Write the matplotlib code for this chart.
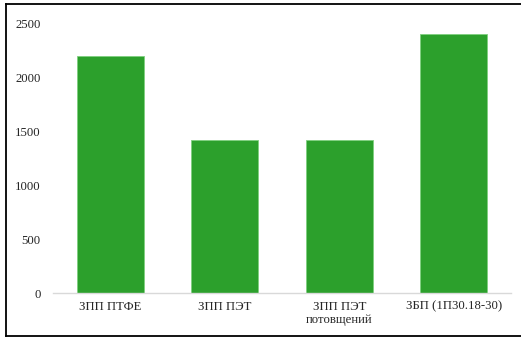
import matplotlib
matplotlib.use("Agg")
import matplotlib.pyplot as plt
from matplotlib.lines import Line2D

categories = ["ЗПП ПТФЕ", "ЗПП ПЭТ", "ЗПП ПЭТ\nпотовщений", "ЗБП (1П30.18-30)"]
values = [2200, 1420, 1420, 2410]
y_ticks = [0, 500, 1000, 1500, 2000, 2500]

W, H = 521, 338
fig = plt.figure(figsize=(W / 100, H / 100), dpi=100)
ax = fig.add_axes([53 / W, (H - 293) / H, (511 - 53) / W, (293 - 24) / H])

x = range(len(categories))
ax.bar(x, values, width=0.585, color="#2ca02c", edgecolor="#7fcf7f", linewidth=0.6)

ax.set_xlim(-0.5, len(categories) - 0.5)
ax.set_ylim(0, 2500)
ax.set_yticks(y_ticks)
ax.set_xticks(list(x))
ax.set_xticklabels(categories, linespacing=1.1)

for s in ("top", "right", "left"):
    ax.spines[s].set_visible(False)
ax.spines["bottom"].set_color("#d9d9d9")
ax.spines["bottom"].set_linewidth(1.0)
ax.tick_params(axis="both", length=0, labelsize=9.2, colors="#404040")
ax.tick_params(axis="y", pad=9)
ax.tick_params(axis="x", pad=5.5)
for lab in ax.get_xticklabels() + ax.get_yticklabels():
    lab.set_fontfamily("Liberation Serif")
    lab.set_color("#262626")

# frame around the chart area
frame_kw = dict(color="black", linewidth=1.3, transform=fig.transFigure)
left, top, bottom = 6 / W, 1 - 4 / H, 1 - 336 / H
fig.add_artist(Line2D([left, left], [bottom, top], **frame_kw))
fig.add_artist(Line2D([left, 1], [top, top], **frame_kw))
fig.add_artist(Line2D([left, 1], [bottom, bottom], **frame_kw))

fig.savefig("out.png", dpi=100)
